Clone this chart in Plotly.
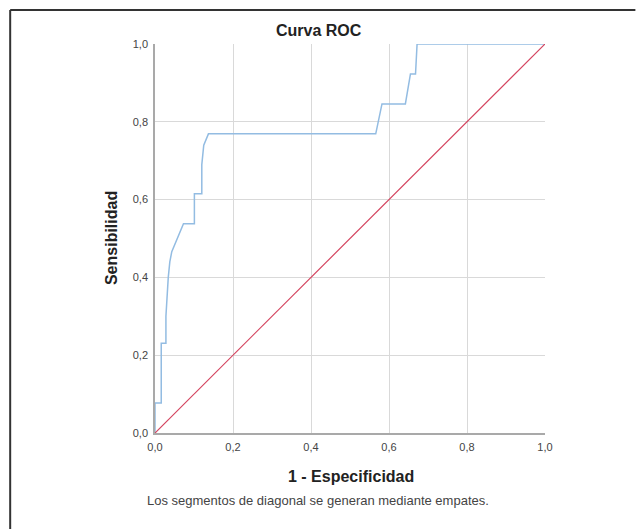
import plotly.graph_objects as go

# ROC curve (1 - specificity, sensitivity)
roc_fpr = [0.0, 0.0, 0.016, 0.016, 0.028, 0.028, 0.034, 0.038, 0.043, 0.058, 0.073,
           0.101, 0.101, 0.120, 0.120, 0.125, 0.137, 0.566, 0.582, 0.642, 0.655,
           0.668, 0.672, 1.0]
roc_tpr = [0.0, 0.077, 0.077, 0.231, 0.231, 0.300, 0.400, 0.440, 0.466, 0.500, 0.538,
           0.538, 0.615, 0.615, 0.690, 0.740, 0.769, 0.769, 0.846, 0.846, 0.923,
           0.923, 1.0, 1.0]
ref_x = [0.0, 1.0]
ref_y = [0.0, 1.0]

tick_vals = [0.0, 0.2, 0.4, 0.6, 0.8, 1.0]
tick_text = ["0,0", "0,2", "0,4", "0,6", "0,8", "1,0"]

W, H = 636, 529
L, R, T, B = 155, 545.5, 44, 433


def px(xp):
    return (xp - L) / (R - L)


def py(yp):
    return (B - yp) / (B - T)


fig = go.Figure()
fig.add_trace(go.Scatter(x=roc_fpr, y=roc_tpr, mode="lines",
                         line=dict(color="#93bce2", width=1.5), showlegend=False))
fig.add_trace(go.Scatter(x=ref_x, y=ref_y, mode="lines",
                         line=dict(color="#d4445f", width=1.2), showlegend=False))

font = "Liberation Sans, Arial, sans-serif"
axis_common = dict(range=[0, 1], tickvals=tick_vals, ticktext=tick_text,
                   showgrid=True, gridcolor="#d9d9d9", gridwidth=1,
                   zeroline=False, showline=True, linecolor="#a9a9a9", linewidth=1.5,
                   ticks="", tickfont=dict(family=font, size=11, color="#444444"),
                   fixedrange=True)
fig.update_xaxes(**axis_common, ticklabelstandoff=3)
fig.update_yaxes(**axis_common, ticklabelstandoff=3)

fig.update_layout(
    width=W, height=H,
    margin=dict(l=L, r=W - R, t=T, b=H - B),
    paper_bgcolor="white", plot_bgcolor="white",
    font=dict(family=font),
    annotations=[
        dict(text="<b>Curva ROC</b>", x=px(319), y=py(30), xref="paper", yref="paper",
             showarrow=False, font=dict(size=16, color="#222222"), xanchor="center", yanchor="middle"),
        dict(text="<b>1 - Especificidad</b>", x=px(351), y=py(476), xref="paper", yref="paper",
             showarrow=False, font=dict(size=16, color="#222222"), xanchor="center", yanchor="middle"),
        dict(text="<b>Sensibilidad</b>", x=px(111), y=py(238), xref="paper", yref="paper",
             showarrow=False, textangle=-90, font=dict(size=16, color="#222222"),
             xanchor="center", yanchor="middle"),
        dict(text="Los segmentos de diagonal se generan mediante empates.", x=px(318.5), y=py(500),
             xref="paper", yref="paper", showarrow=False, font=dict(size=13, color="#444444"),
             xanchor="center", yanchor="middle"),
    ],
    shapes=[
        dict(type="line", xref="paper", yref="paper", x0=px(10), x1=px(W), y0=py(10), y1=py(10),
             line=dict(color="#333333", width=2)),
        dict(type="line", xref="paper", yref="paper", x0=px(10), x1=px(10), y0=py(10), y1=py(H),
             line=dict(color="#333333", width=2)),
    ],
)

fig.write_html("out.html")
